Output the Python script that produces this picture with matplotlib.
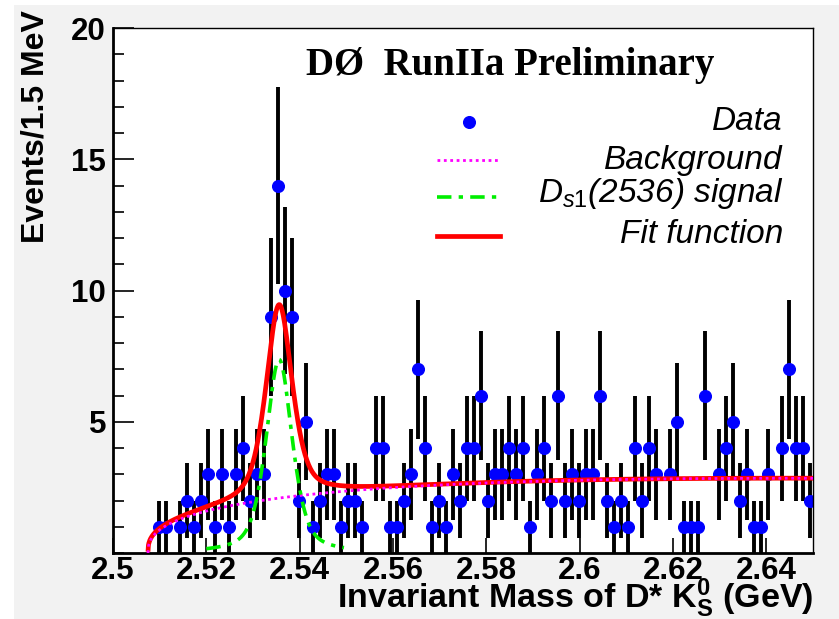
import numpy as np
import matplotlib
matplotlib.use("Agg")
import matplotlib.pyplot as plt
from matplotlib.lines import Line2D
from matplotlib.patches import Rectangle

plt.rcParams['mathtext.fontset'] = 'custom'
plt.rcParams['mathtext.rm'] = 'Liberation Sans'
plt.rcParams['mathtext.it'] = 'Liberation Sans:italic'
plt.rcParams['mathtext.bf'] = 'Liberation Sans:bold'

# ---------------- data ----------------
x_min, x_max = 2.5, 2.65
bin_width = 0.0015
counts = [0, 0, 0, 0, 0, 0, 1, 1, 0, 1,
          2, 1, 2, 3, 1, 3, 1, 3, 4, 2,
          3, 3, 9, 14, 10, 9, 2, 5, 1, 2,
          3, 3, 1, 2, 2, 1, 0, 4, 4, 1,
          1, 2, 3, 7, 4, 1, 2, 1, 3, 2,
          4, 4, 6, 2, 3, 3, 4, 3, 4, 1,
          3, 4, 2, 6, 2, 3, 2, 3, 3, 6,
          2, 1, 2, 1, 4, 2, 4, 3, 0, 3,
          5, 1, 1, 1, 6, 0, 3, 4, 5, 2,
          3, 1, 1, 3, 0, 4, 7, 4, 4, 2]

# fit parameters
threshold = 2.5075
bkg_norm, bkg_power, bkg_slope = 9.06, 0.388, 2.82
sig_amp, sig_mean, sig_gamma, sig_sigma, sig_eta = 7.37, 2.5356, 0.0032, 0.0029, 0.55
sig_range = (2.5200, 2.5495)

x_ticks = [2.5, 2.52, 2.54, 2.56, 2.58, 2.6, 2.62, 2.64]
x_tick_labels = ["2.5", "2.52", "2.54", "2.56", "2.58", "2.6", "2.62", "2.64"]
y_ticks = [5, 10, 15, 20]
y_tick_labels = ["5", "10", "15", "20"]


def background(m):
    dm = np.clip(m - threshold, 0, None)
    return bkg_norm * dm ** bkg_power * np.exp(-bkg_slope * dm)


def signal(m):
    d = m - sig_mean
    return sig_amp * (sig_eta / (1 + (d / sig_gamma) ** 2)
                      + (1 - sig_eta) * np.exp(-d ** 2 / (2 * sig_sigma ** 2)))


# ---------------- figure ----------------
W, H = 839, 619
fig = plt.figure(figsize=(W / 100, H / 100), dpi=100)
fig.patch.set_facecolor('white')
fig.add_artist(Rectangle((14 / W, 0), 1, 1 - 5 / H, transform=fig.transFigure,
                         facecolor='#f2f2f2', edgecolor='none', zorder=-10))

ax = fig.add_axes([113 / W, 66 / H, 700 / W, 525 / H])
ax.set_facecolor('white')

counts_arr = np.array(counts, dtype=float)
centers = x_min + bin_width * (np.arange(len(counts_arr)) + 0.5)
mask = counts_arr > 0
ax.errorbar(centers[mask], counts_arr[mask], yerr=np.sqrt(counts_arr[mask]),
            fmt='o', color='#0000ff', markersize=8.4, ecolor='black',
            elinewidth=2.8, capsize=0, zorder=2)

mm = np.linspace(threshold, x_max, 1500)
ax.plot(mm, background(mm) + signal(mm), color='#ff0000', lw=3.4, zorder=3,
        solid_capstyle='butt')
ax.plot(mm, background(mm), color='#ff00ff', lw=2.0, ls=(0, (1, 1.3)), zorder=4)
ms = np.linspace(sig_range[0], sig_range[1], 600)
ax.plot(ms, signal(ms), color='#00ee00', lw=2.6, ls=(0, (4, 2, 1.2, 2)), zorder=5)

ax.set_xlim(x_min, x_max)
ax.set_ylim(0, 20)
ax.set_xticks(x_ticks)
ax.set_xticklabels(x_tick_labels)
ax.set_yticks(y_ticks)
ax.set_yticklabels(y_tick_labels)
ax.set_yticks(np.arange(0, 20, 1), minor=True)
for lab in ax.get_xticklabels() + ax.get_yticklabels():
    lab.set_fontfamily('Liberation Sans')
    lab.set_fontweight('bold')
    lab.set_fontsize(22.5)
ax.tick_params(axis='x', which='major', direction='in', length=11, width=1.2,
               pad=2, top=False)
ax.tick_params(axis='y', which='major', direction='in', length=15, width=1.2,
               pad=5, right=False)
ax.tick_params(axis='y', which='minor', direction='in', length=8, width=1.2,
               right=False)
for side in ['left', 'bottom']:
    ax.spines[side].set_linewidth(2.0)
for side in ['top', 'right']:
    ax.spines[side].set_linewidth(1.0)

# axis titles
fig.text(36 / W, 1 - 10 / H, "Events/1.5 MeV", rotation=90, ha='center', va='top',
         fontfamily='Liberation Sans', fontweight='bold', fontsize=23)
fig.text(813 / W, 1 - 598 / H, r"Invariant Mass of D* K$_\mathbf{S}^\mathbf{0}$ (GeV)",
         ha='right', va='center', fontfamily='Liberation Sans', fontweight='bold',
         fontsize=24.5)

# title
fig.text(510 / W, 1 - 65 / H, "DØ  RunIIa Preliminary", ha='center', va='center',
         fontfamily='Liberation Serif', fontweight='bold', fontsize=28)

# legend (drawn manually)
def fx(p):
    return p / W


def fy(p):
    return 1 - p / H


fig.add_artist(Line2D([fx(469)], [fy(122)], marker='o', color='#0000ff',
                      markersize=8.4, transform=fig.transFigure))
fig.add_artist(Line2D([fx(437), fx(500)], [fy(160), fy(160)], color='#ff00ff', lw=2.0,
                      ls=(0, (1, 1.3)), transform=fig.transFigure))
fig.add_artist(Line2D([fx(437), fx(500)], [fy(197), fy(197)], color='#00ee00', lw=2.6,
                      ls=(0, (4, 2, 1.2, 2)), transform=fig.transFigure))
fig.add_artist(Line2D([fx(437), fx(500)], [fy(236), fy(236)], color='#ff0000', lw=3.4,
                      transform=fig.transFigure))
leg_kw = dict(ha='right', va='center', fontfamily='Liberation Sans', style='italic',
              fontsize=24)
fig.text(fx(783), fy(121), "Data", **leg_kw)
fig.text(fx(783), fy(160), "Background", **leg_kw)
fig.text(fx(783), fy(194), r"$\mathit{D_{s1}}$(2536) signal", **leg_kw)
fig.text(fx(783), fy(234), "Fit function", **leg_kw)

fig.savefig("out.png", dpi=100)
